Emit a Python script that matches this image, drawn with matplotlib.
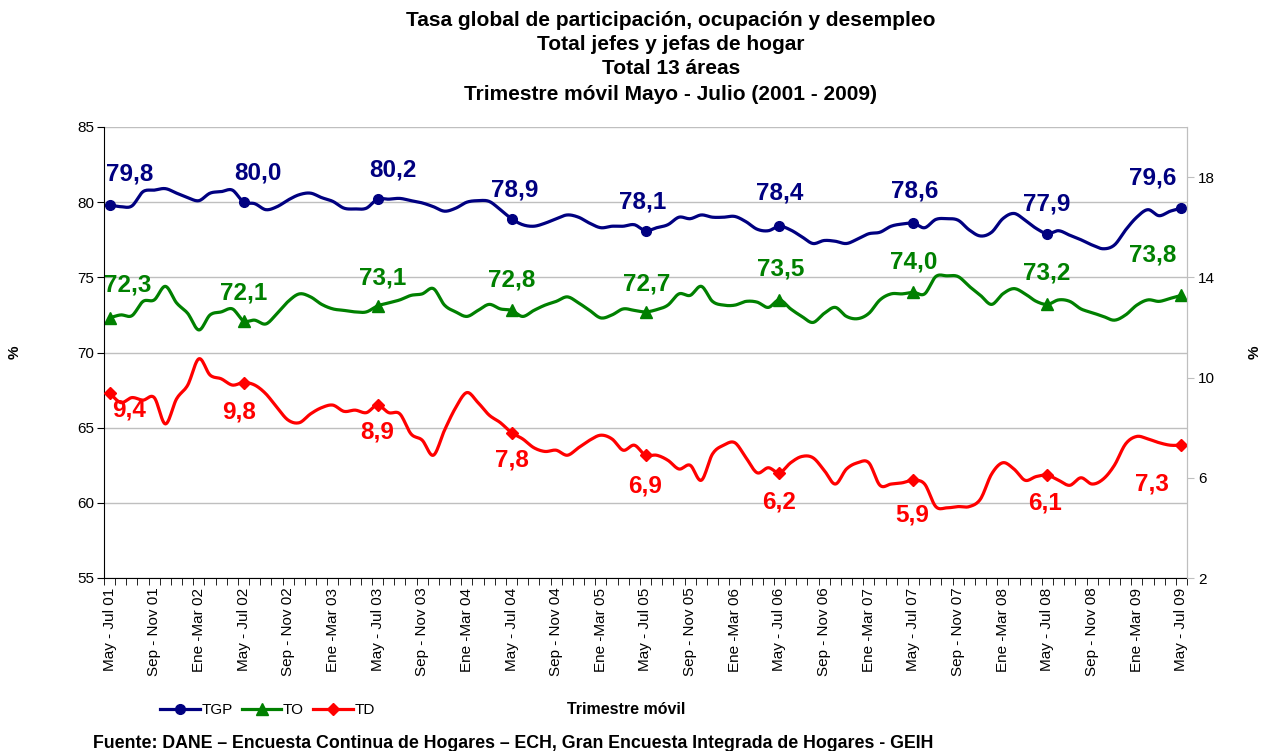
import numpy as np
import matplotlib
matplotlib.use("Agg")
import matplotlib.pyplot as plt
from matplotlib.ticker import MultipleLocator, FixedLocator
from matplotlib.lines import Line2D

plt.rcParams['font.family'] = ['Liberation Sans', 'DejaVu Sans']

# Trimestres moviles, May-Jul 2001 a May-Jul 2009 (97 meses)
tick_labels = [
    "May - Jul 01", "Sep - Nov 01", "Ene -Mar 02", "May - Jul 02", "Sep - Nov 02",
    "Ene -Mar 03", "May - Jul 03", "Sep - Nov 03", "Ene -Mar 04", "May - Jul 04",
    "Sep - Nov 04", "Ene -Mar 05", "May - Jul 05", "Sep - Nov 05", "Ene -Mar 06",
    "May - Jul 06", "Sep - Nov 06", "Ene -Mar 07", "May - Jul 07", "Sep - Nov 07",
    "Ene -Mar 08", "May - Jul 08", "Sep - Nov 08", "Ene -Mar 09", "May - Jul 09",
]

# TGP - tasa global de participacion (eje izquierdo)
tgp = [79.8, 79.7, 79.75, 80.7, 80.8, 80.9, 80.6, 80.3, 80.1, 80.6, 80.7, 80.8,
       80.0, 79.9, 79.5, 79.7, 80.15, 80.5, 80.6, 80.3, 80.05, 79.6, 79.55, 79.6,
       80.2, 80.2, 80.25, 80.1, 79.95, 79.7, 79.4, 79.6, 80.0, 80.1, 80.05, 79.5,
       78.9, 78.5, 78.4, 78.6, 78.9, 79.15, 79.0, 78.6, 78.3, 78.4, 78.4, 78.5,
       78.1, 78.3, 78.5, 79.0, 78.9, 79.15, 79.0, 79.0, 79.05, 78.7, 78.2, 78.1,
       78.4, 78.15, 77.7, 77.25, 77.45, 77.4, 77.25, 77.55, 77.9, 78.0, 78.4, 78.55,
       78.6, 78.3, 78.85, 78.9, 78.8, 78.15, 77.75, 78.0, 78.9, 79.25, 78.8, 78.25,
       77.9, 78.1, 77.8, 77.5, 77.15, 76.9, 77.15, 78.15, 79.0, 79.5, 79.1, 79.4,
       79.6]

# TO - tasa de ocupacion (eje izquierdo)
to = [72.3, 72.5, 72.45, 73.4, 73.5, 74.4, 73.3, 72.6, 71.5, 72.5, 72.7, 72.9,
      72.1, 72.15, 71.9, 72.6, 73.4, 73.9, 73.7, 73.2, 72.9, 72.8, 72.7, 72.7,
      73.1, 73.3, 73.5, 73.8, 73.9, 74.25, 73.15, 72.7, 72.4, 72.8, 73.2, 72.9,
      72.8, 72.4, 72.8, 73.15, 73.4, 73.7, 73.3, 72.8, 72.3, 72.5, 72.9, 72.8,
      72.7, 72.85, 73.15, 73.9, 73.8, 74.4, 73.4, 73.15, 73.15, 73.4, 73.35, 73.0,
      73.5, 72.9, 72.4, 72.0, 72.6, 73.0, 72.4, 72.25, 72.6, 73.5, 73.9, 73.9,
      74.0, 73.9, 75.05, 75.1, 75.05, 74.4, 73.8, 73.2, 73.9, 74.25, 73.9, 73.4,
      73.2, 73.5, 73.4, 72.9, 72.65, 72.4, 72.15, 72.5, 73.15, 73.5, 73.4, 73.6,
      73.8]

# TD - tasa de desempleo (eje derecho)
td = [9.4, 9.0, 9.2, 9.1, 9.2, 8.15, 9.15, 9.7, 10.75, 10.1, 9.95, 9.7,
      9.8, 9.7, 9.35, 8.8, 8.3, 8.2, 8.55, 8.8, 8.9, 8.65, 8.7, 8.6,
      8.9, 8.6, 8.55, 7.75, 7.5, 6.9, 7.9, 8.8, 9.4, 9.0, 8.5, 8.2,
      7.8, 7.55, 7.2, 7.05, 7.1, 6.9, 7.2, 7.5, 7.7, 7.55, 7.1, 7.3,
      6.9, 6.9, 6.7, 6.35, 6.5, 5.9, 6.95, 7.3, 7.4, 6.8, 6.2, 6.4,
      6.2, 6.6, 6.85, 6.8, 6.3, 5.75, 6.35, 6.6, 6.6, 5.7, 5.75, 5.8,
      5.9, 5.75, 4.85, 4.8, 4.85, 4.85, 5.15, 6.15, 6.6, 6.35, 5.9, 6.05,
      6.1, 5.9, 5.7, 6.0, 5.75, 5.95, 6.5, 7.35, 7.65, 7.55, 7.4, 7.3,
      7.3]

# desplazamiento (px) de las etiquetas en cada May-Jul
off_tgp = [(20, 31), (14, 29), (15, 29), (3, 29), (-3, 29), (0, 33), (1, 32), (-1, 30), (-29, 30)]
off_to = [(18, 33), (0, 28), (5, 28), (0, 30), (1, 28), (1, 31), (0, 30), (-1, 31), (-29, 40)]
off_td = [(19, -17), (-4, -29), (0, -27), (0, -27), (0, -31), (0, -29), (-1, -35), (-2, -28), (-29, -39)]

NAVY = '#000080'
GREEN = '#008000'
RED = '#FF0000'


def smooth(y, n=12):
    """Curva suavizada tipo Excel (Catmull-Rom) entre los puntos."""
    P = np.column_stack([np.arange(len(y)), y]).astype(float)
    P = np.vstack([P[0], P, P[-1]])
    t = np.linspace(0, 1, n, endpoint=False)[:, None]
    out = []
    for i in range(1, len(P) - 2):
        p0, p1, p2, p3 = P[i - 1], P[i], P[i + 1], P[i + 2]
        out.append(0.5 * (2 * p1 + (-p0 + p2) * t + (2 * p0 - 5 * p1 + 4 * p2 - p3) * t ** 2
                          + (-p0 + 3 * p1 - 3 * p2 + p3) * t ** 3))
    out.append(P[-2][None, :])
    out = np.vstack(out)
    return out[:, 0], out[:, 1]


def fmt(v):
    return f"{v:.1f}".replace('.', ',')


fig = plt.figure(figsize=(12.62, 7.51), dpi=100)
ax = fig.add_axes([104 / 1262, 1 - 578 / 751, 1083 / 1262, 451 / 751])
ax2 = ax.twinx()

n = len(tgp)
marks = np.arange(0, n, 12)

for axis, serie, color, mk, ms, offs in [(ax, tgp, NAVY, 'o', 7, off_tgp),
                                         (ax, to, GREEN, '^', 8, off_to),
                                         (ax2, td, RED, 'D', 6, off_td)]:
    xs, ys = smooth(serie)
    axis.plot(xs, ys, color=color, lw=2.3, solid_capstyle='round')
    vals = np.array(serie)[marks]
    axis.plot(marks, vals, ls='none', marker=mk, ms=ms, color=color, clip_on=False)
    for k, (i, v) in enumerate(zip(marks, vals)):
        axis.annotate(fmt(v), (i, v), xytext=offs[k], textcoords='offset pixels',
                      ha='center', va='center', fontsize=17.5, weight='bold', color=color)

ax.set_xlim(-0.5, n - 0.5)
ax.set_ylim(55, 85)
ax2.set_ylim(2, 20)
ax.yaxis.set_major_locator(MultipleLocator(5))
ax2.yaxis.set_major_locator(FixedLocator([2, 6, 10, 14, 18]))
# etiquetas en el centro de la categoria, marcas entre categorias
ax.xaxis.set_major_locator(FixedLocator(np.arange(0, n, 4)))
ax.xaxis.set_minor_locator(FixedLocator(np.arange(n + 1) - 0.5))
ax.set_xticklabels(tick_labels, rotation=90, fontsize=11)
ax.tick_params(axis='x', which='major', length=0, pad=7)
ax.tick_params(axis='x', which='minor', length=5, direction='out', color='black')
ax.tick_params(axis='y', labelsize=11, length=5, direction='out', color='black', pad=2)
ax2.tick_params(axis='y', labelsize=11, length=5, direction='out', color='#BFBFBF', pad=3)

ax.grid(axis='y', color='#BFBFBF', lw=1)
ax.set_axisbelow(True)
for a in (ax, ax2):
    a.spines['top'].set_visible(False)
    a.spines['left'].set_color('black')
    a.spines['bottom'].set_color('black')
    a.spines['right'].set_color('#BFBFBF')
ax2.spines['left'].set_visible(False)
ax2.spines['bottom'].set_visible(False)

fig.text(15 / 1262, 1 - 352 / 751, '%', rotation=90, ha='center', va='center',
         fontsize=11, weight='bold')
fig.text(1255 / 1262, 1 - 352 / 751, '%', rotation=90, ha='center', va='center',
         fontsize=11, weight='bold')

titles = ["Tasa global de participación, ocupación y desempleo",
          "Total jefes y jefas de hogar",
          "Total 13 áreas",
          "Trimestre móvil Mayo - Julio (2001 - 2009)"]
for line, ypx in zip(titles, [20, 44, 69, 95]):
    fig.text(671 / 1262, 1 - ypx / 751, line, ha='center', va='center',
             fontsize=15, weight='bold')

fig.text(626 / 1262, 1 - 710 / 751, 'Trimestre móvil', ha='center', va='center',
         fontsize=11.5, weight='bold')
fig.text(93 / 1262, 1 - 743 / 751,
         'Fuente: DANE – Encuesta Continua de Hogares – ECH, Gran Encuesta Integrada de Hogares - GEIH',
         ha='left', va='center', fontsize=12.8, weight='bold')

handles = [Line2D([], [], color=NAVY, lw=2.3, marker='o', ms=7),
           Line2D([], [], color=GREEN, lw=2.3, marker='^', ms=8),
           Line2D([], [], color=RED, lw=2.3, marker='D', ms=6)]
fig.legend(handles, ['TGP', 'TO', 'TD'], loc='center left', ncol=3, frameon=False,
           bbox_to_anchor=(160 / 1262, 1 - 710 / 751), fontsize=11, handlelength=2.6,
           handletextpad=0.1, columnspacing=0.6, borderaxespad=0, borderpad=0)

fig.savefig('out.png', dpi=100)
